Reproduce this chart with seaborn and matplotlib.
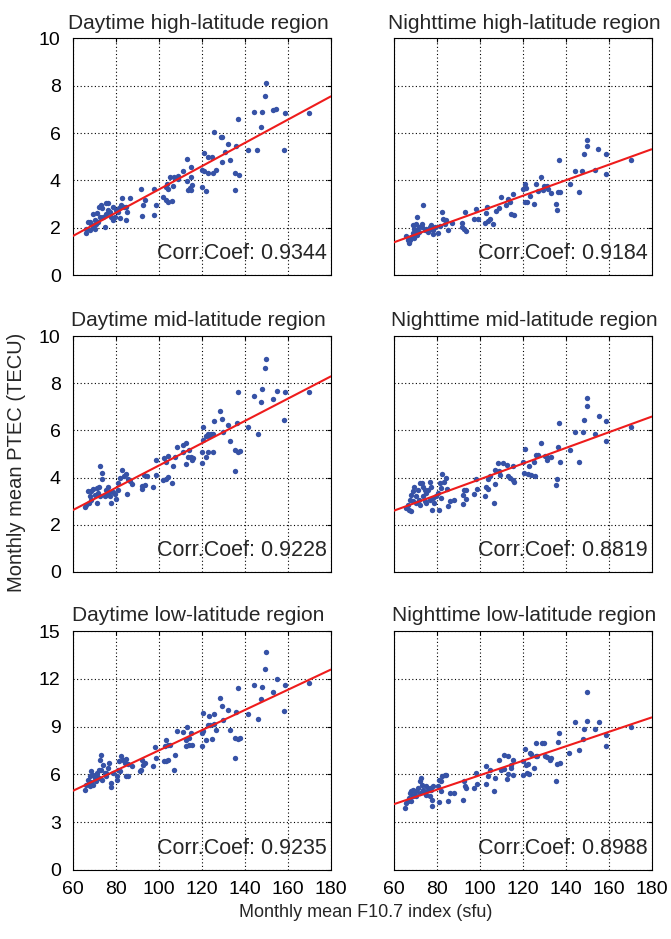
import numpy as np
import pandas as pd
import seaborn as sns
import matplotlib.pyplot as plt

# monthly mean F10.7 (x) and PTEC (y)
dh_x = [149.6, 149.5, 169.8, 154.6, 153.0, 158.6, 148.0, 144.0, 147.4, 145.7,
        141.4, 158.4, 136.7, 136.0, 125.6, 128.7, 129.3, 132.0, 130.9, 132.9,
        129.5, 126.7, 124.8, 123.0, 120.8, 120.2, 120.8, 122.8, 125.0, 135.3,
        137.2, 135.2, 120.2, 122.0, 112.9, 114.9, 111.2, 114.9, 113.0, 115.5,
        114.3, 113.4, 114.9, 108.8, 106.8, 109.0, 103.7, 103.4, 104.2, 105.0,
        106.5, 101.9, 103.4, 104.2, 106.0, 97.8, 98.8, 97.5, 91.6, 92.2,
        92.6, 93.5, 86.4, 82.8, 85.3, 84.8, 83.6, 84.5,
        65.9, 66.2, 67.0, 68.5, 69.3, 67.8, 70.1, 70.9, 72.1, 73.2,
        73.6, 72.4, 71.6, 74.0, 74.7, 75.5, 76.3, 77.0, 77.8, 78.6,
        79.4, 79.8, 80.9, 81.7, 81.4, 82.5, 78.6, 75.5, 69.3, 70.5,
        68.0, 76.3, 70.0]
dh_y = [8.10, 7.56, 6.86, 7.00, 6.97, 6.85, 6.90, 6.90, 6.24, 5.28,
        5.30, 5.30, 6.58, 5.45, 6.04, 5.85, 5.85, 5.55, 5.20, 4.86,
        4.76, 4.45, 5.00, 5.00, 5.17, 4.45, 4.42, 4.30, 4.30, 4.30,
        4.22, 3.58, 3.73, 3.56, 4.90, 4.58, 4.40, 4.15, 3.99, 3.80,
        3.70, 3.60, 3.60, 4.20, 4.13, 4.05, 3.85, 3.73, 3.66, 4.13,
        3.76, 3.31, 3.17, 3.10, 3.14, 3.65, 2.96, 2.52, 3.62, 2.49,
        2.96, 3.17, 3.24, 3.24, 2.68, 2.35, 2.89, 2.89,
        1.79, 1.93, 2.24, 2.18, 2.04, 2.25, 2.32, 2.63, 2.89, 2.96,
        2.82, 2.46, 2.25, 2.46, 2.04, 2.60, 2.77, 2.68, 2.46, 2.32,
        2.46, 2.75, 2.68, 2.40, 2.82, 2.96, 2.89, 3.03, 2.60, 2.18,
        1.90, 3.03, 1.93]

nh_x = [149.9, 149.9, 148.5, 155.2, 158.9, 158.7, 170.4, 153.6, 147.7, 144.4,
        146.3, 137.0, 141.8, 137.3, 136.5, 135.7, 136.0, 128.7, 126.1, 130.0,
        131.1, 129.5, 131.8, 133.0, 127.2, 121.0, 121.3, 123.3, 120.2, 121.1,
        122.2, 125.3, 115.5, 113.0, 114.0, 112.1, 114.7, 116.0, 110.0, 107.7,
        108.8, 103.5, 103.1, 104.6, 104.0, 102.5, 106.2, 98.3, 97.2, 99.0,
        93.1, 91.9, 92.5, 93.4, 91.7, 87.1, 85.2, 82.5, 82.9, 84.3,
        83.6, 81.3, 80.5, 78.2, 79.0, 77.3, 76.3, 75.1, 73.5, 70.9,
        72.9, 71.9, 71.6, 70.4, 69.5, 68.9, 68.1, 67.0, 66.5, 65.8,
        67.6, 68.9, 70.1, 73.2, 74.3, 75.7, 76.6, 78.2, 70.7, 69.6]
nh_y = [5.69, 5.45, 5.13, 5.31, 5.10, 4.28, 4.85, 4.46, 4.39, 4.39,
        3.51, 4.85, 3.86, 3.50, 3.50, 3.00, 2.75, 4.15, 3.86, 3.76,
        3.76, 3.60, 3.66, 3.45, 3.56, 3.86, 3.70, 3.35, 3.65, 3.07,
        3.07, 2.99, 3.41, 3.20, 3.10, 2.96, 2.60, 2.52, 3.31, 2.72,
        2.82, 2.86, 2.63, 2.39, 2.28, 2.21, 2.14, 2.79, 2.39, 2.38,
        2.68, 2.21, 1.93, 1.86, 2.04, 2.21, 1.90, 2.66, 2.38, 2.35,
        2.18, 2.07, 1.76, 1.90, 2.04, 2.10, 1.90, 1.97, 2.97, 2.46,
        2.14, 2.04, 1.83, 1.90, 1.97, 1.76, 1.62, 1.34, 1.48, 1.66,
        1.48, 2.11, 2.15, 2.04, 1.90, 1.83, 2.04, 1.73, 1.69, 1.55]

dm_x = [149.6, 149.5, 169.8, 148.0, 144.0, 147.4, 153.2, 154.9, 158.6, 158.4,
        141.4, 145.9, 136.7, 136.3, 132.9, 135.3, 137.0, 137.5, 135.5, 128.5,
        129.3, 125.7, 132.1, 129.8, 120.5, 122.8, 124.0, 125.0, 123.2, 121.8,
        120.5, 120.2, 122.7, 125.0, 121.7, 120.2, 108.2, 111.2, 112.7, 114.1,
        114.7, 115.8, 115.3, 112.4, 113.3, 111.2, 107.6, 106.7, 104.2, 103.4,
        102.5, 104.3, 103.4, 102.0, 106.2, 98.4, 98.8, 97.2, 92.9, 92.1,
        92.1, 94.2, 93.5, 87.6, 85.4, 86.4, 84.5, 82.6, 83.6, 81.7,
        80.9, 85.0, 80.9, 79.4, 78.6, 76.7, 77.4, 76.3, 75.5, 73.6,
        72.4, 73.5, 72.1, 70.9, 71.6, 69.3, 68.5, 70.1, 67.8, 67.0,
        67.4, 66.2, 65.6, 68.5, 70.9, 72.4, 74.7, 75.5, 77.0, 79.8]
dm_y = [9.02, 8.63, 7.61, 7.76, 7.47, 7.20, 7.34, 7.69, 7.64, 6.44,
        6.15, 5.85, 7.65, 6.32, 5.56, 5.17, 5.08, 5.12, 4.28, 6.81,
        6.50, 6.39, 6.25, 5.94, 6.16, 5.84, 5.84, 5.84, 5.77, 5.77,
        5.59, 5.08, 5.08, 5.08, 4.86, 4.63, 5.31, 5.38, 5.45, 5.17,
        4.87, 4.82, 4.75, 4.58, 4.87, 5.10, 4.89, 4.48, 4.91, 4.68,
        4.83, 4.04, 3.95, 3.88, 3.76, 4.75, 4.10, 3.62, 4.09, 3.51,
        3.65, 4.05, 3.69, 3.71, 3.95, 3.84, 4.14, 4.31, 4.05, 3.97,
        3.76, 3.30, 3.46, 3.31, 3.40, 3.38, 2.92, 3.62, 3.48, 4.19,
        4.47, 3.95, 3.62, 3.55, 3.34, 3.51, 3.41, 3.27, 3.20, 3.41,
        2.92, 2.85, 2.75, 3.06, 2.92, 3.20, 3.20, 3.27, 3.20, 3.10]

nm_x = [150.0, 150.0, 148.5, 155.3, 158.9, 158.8, 170.4, 153.6, 147.9, 144.4,
        146.3, 137.0, 141.8, 136.5, 137.3, 136.0, 135.7, 128.7, 126.4, 127.2,
        130.3, 131.5, 131.1, 133.1, 123.0, 125.2, 121.0, 120.2, 120.5, 122.5,
        124.0, 125.6, 115.5, 111.0, 112.7, 108.5, 108.8, 107.1, 113.0, 114.2,
        115.5, 115.8, 109.3, 107.0, 104.6, 103.9, 103.1, 103.9, 102.3, 106.5,
        98.4, 98.9, 97.3, 93.4, 92.8, 93.7, 92.0, 92.2, 87.8, 86.0,
        85.2, 82.5, 84.4, 83.2, 81.3, 82.1, 84.9, 80.5, 79.8, 82.1,
        81.0, 78.5, 77.9, 78.2, 76.6, 77.4, 75.1, 75.9, 73.2, 72.0,
        73.5, 74.3, 71.2, 69.6, 68.9, 68.1, 70.4, 71.7, 67.3, 68.9,
        66.5, 67.0, 65.8, 68.1, 75.1, 72.0, 70.4, 76.6, 73.5, 74.5]
nm_y = [7.38, 7.05, 6.46, 6.61, 6.39, 5.57, 6.15, 5.87, 5.92, 5.92,
        4.68, 6.32, 5.17, 5.31, 4.68, 3.95, 3.68, 5.48, 4.96, 4.96,
        4.92, 4.86, 4.73, 4.89, 4.49, 4.68, 5.20, 4.68, 4.20, 4.15,
        4.10, 4.07, 4.47, 4.63, 4.54, 4.60, 4.30, 4.31, 4.07, 3.97,
        3.88, 3.82, 4.12, 3.74, 4.05, 3.95, 3.62, 3.53, 3.20, 2.92,
        3.93, 3.51, 3.32, 3.49, 3.49, 3.10, 3.25, 2.90, 3.06, 2.99,
        2.78, 4.16, 3.97, 3.83, 3.76, 3.55, 3.51, 3.34, 3.20, 3.13,
        2.61, 2.92, 2.64, 3.13, 3.83, 3.62, 3.34, 3.48, 3.76, 3.76,
        3.62, 3.48, 3.48, 3.62, 3.41, 3.25, 3.20, 3.06, 3.06, 2.99,
        2.85, 2.64, 2.71, 2.57, 2.92, 2.85, 2.92, 3.06, 3.20, 3.00]

dl_x = [149.6, 149.5, 169.8, 144.0, 148.0, 147.4, 154.9, 153.3, 158.6, 158.4,
        141.4, 145.9, 136.6, 136.0, 132.9, 135.3, 137.0, 137.5, 135.3, 128.5,
        129.1, 125.6, 132.1, 129.8, 120.5, 123.1, 125.7, 122.8, 123.9, 120.5,
        120.0, 122.0, 124.8, 120.2, 126.7, 112.9, 108.4, 111.2, 115.0, 114.0,
        112.4, 113.8, 115.2, 112.4, 103.1, 105.0, 104.2, 102.6, 107.3, 106.8,
        104.2, 103.4, 102.2, 98.0, 98.8, 97.2, 92.2, 92.6, 93.3, 91.8,
        91.0, 87.6, 85.6, 84.8, 85.6, 82.5, 83.3, 84.8, 84.0, 81.4,
        81.0, 81.7, 80.2, 80.5, 77.8, 77.4, 78.6, 76.7, 76.3, 75.5,
        74.0, 73.2, 72.4, 72.1, 73.2, 70.9, 70.9, 69.3, 70.1, 68.5,
        67.8, 67.0, 67.4, 66.2, 65.4, 68.5, 69.3, 70.5, 72.1, 73.6,
        74.7, 75.5, 67.8]
dl_y = [13.68, 12.59, 11.73, 11.64, 11.48, 10.74, 11.96, 11.18, 11.58, 9.97,
        9.82, 9.48, 11.45, 9.94, 8.81, 8.30, 8.25, 8.30, 7.05, 10.80,
        10.28, 9.80, 10.07, 9.44, 9.86, 9.69, 9.17, 9.13, 9.13, 8.71,
        8.60, 8.18, 8.25, 7.76, 8.81, 8.96, 8.75, 8.66, 8.60, 8.27,
        8.18, 7.82, 7.82, 7.78, 8.18, 7.87, 7.87, 7.76, 7.24, 6.29,
        6.92, 6.82, 6.82, 7.72, 7.03, 6.50, 6.88, 6.60, 6.71, 6.29,
        6.19, 6.50, 6.65, 5.87, 5.92, 7.17, 6.92, 6.97, 6.71, 6.82,
        6.29, 6.19, 5.87, 5.62, 5.45, 5.20, 6.08, 6.71, 6.40, 6.08,
        6.61, 7.24, 6.88, 6.29, 6.29, 6.08, 5.87, 5.98, 5.77, 6.19,
        5.87, 5.66, 5.45, 5.35, 5.04, 5.50, 5.35, 5.56, 5.77, 5.66,
        6.08, 5.87, 5.25]

nl_x = [150.0, 150.0, 148.5, 144.4, 155.3, 153.6, 158.9, 158.8, 170.4, 147.9,
        146.3, 141.6, 137.0, 136.5, 137.3, 136.0, 135.7, 126.1, 129.0, 129.8,
        126.1, 126.7, 130.3, 131.1, 132.6, 133.2, 121.0, 123.3, 124.0, 120.2,
        121.7, 122.5, 120.2, 122.2, 125.2, 123.0, 115.5, 114.7, 111.2, 113.0,
        108.8, 114.7, 115.5, 109.8, 111.2, 112.9, 113.2, 103.1, 104.6, 103.9,
        102.8, 107.0, 106.5, 98.4, 98.9, 97.3, 92.5, 93.0, 93.7, 92.2,
        87.8, 86.0, 85.2, 84.4, 83.6, 82.5, 82.1, 80.5, 81.0, 82.1,
        81.0, 78.2, 77.4, 77.9, 77.9, 76.6, 75.1, 75.9, 72.8, 72.0,
        73.1, 73.5, 74.3, 71.2, 70.4, 68.9, 68.1, 69.6, 68.9, 67.6,
        67.0, 66.5, 65.8, 65.4, 68.1, 70.4, 72.0, 75.1, 76.6]
nl_y = [11.16, 9.38, 8.87, 9.27, 9.27, 8.85, 8.45, 7.80, 8.98, 8.24,
        7.51, 7.36, 8.60, 8.06, 6.71, 6.65, 5.60, 7.97, 7.95, 7.95,
        7.18, 7.18, 7.13, 7.07, 6.88, 7.00, 7.62, 7.34, 7.30, 6.82,
        6.60, 6.63, 5.98, 6.08, 6.40, 6.02, 6.88, 6.60, 7.22, 7.17,
        6.88, 6.40, 5.98, 6.29, 6.34, 5.73, 6.04, 6.50, 6.29, 5.87,
        5.41, 5.77, 4.93, 6.08, 5.41, 5.14, 5.56, 5.25, 5.14, 4.41,
        4.83, 4.83, 4.30, 5.98, 5.94, 5.87, 5.56, 5.25, 5.62, 4.93,
        4.26, 5.25, 5.04, 4.41, 4.03, 5.14, 5.29, 5.04, 5.77, 5.56,
        5.35, 5.04, 4.83, 5.14, 4.93, 5.04, 4.93, 4.72, 4.62, 4.83,
        4.51, 4.36, 4.20, 3.88, 4.30, 4.62, 4.83, 4.72, 4.62]

titles = ["Daytime high-latitude region", "Nighttime high-latitude region",
          "Daytime mid-latitude region", "Nighttime mid-latitude region",
          "Daytime low-latitude region", "Nighttime low-latitude region"]
corr_coef = ["0.9344", "0.9184", "0.9228", "0.8819", "0.9235", "0.8988"]
x_ticks = [60, 80, 100, 120, 140, 160, 180]
y_ticks_hm = [0, 2, 4, 6, 8, 10]
y_ticks_low = [0, 3, 6, 9, 12, 15]

panels = [(dh_x, dh_y), (nh_x, nh_y), (dm_x, dm_y),
          (nm_x, nm_y), (dl_x, dl_y), (nl_x, nl_y)]

sns.set_style("white")
plt.rcParams["font.family"] = ["Liberation Sans", "DejaVu Sans"]

fig = plt.figure(figsize=(6.71, 9.39), dpi=100)
lefts = [0.109, 0.587]
bottoms = [0.707, 0.391, 0.0735]
heights = [0.252, 0.251, 0.2545]
dot_color = "#3652a6"
line_color = "#ee1c1c"

for i, (xs, ys) in enumerate(panels):
    row, col = divmod(i, 2)
    ax = fig.add_axes([lefts[col], bottoms[row], 0.384, heights[row]])
    df = pd.DataFrame({"F107": xs, "PTEC": ys})
    ax.set_xlim(60, 180)
    yt = y_ticks_low if row == 2 else y_ticks_hm
    ax.set_ylim(yt[0], yt[-1])
    sns.scatterplot(data=df, x="F107", y="PTEC", ax=ax, color=dot_color,
                    s=15, linewidth=0, zorder=3)
    sns.regplot(data=df, x="F107", y="PTEC", ax=ax, scatter=False, ci=None,
                truncate=False, line_kws={"color": line_color, "lw": 1.5, "zorder": 4})
    ax.set_xlim(60, 180)
    ax.set_ylim(yt[0], yt[-1])
    ax.set_xticks(x_ticks)
    ax.set_yticks(yt)
    ax.grid(True, color="black", linestyle=(0, (1, 2.2)), linewidth=0.8)
    ax.set_axisbelow(True)
    for sp in ax.spines.values():
        sp.set_color("black")
        sp.set_linewidth(0.8)
    ax.tick_params(direction="in", length=3, labelsize=14, colors="black",
                   top=True, right=True)
    ax.tick_params(axis="y", pad=9)
    ax.tick_params(axis="x", pad=8)
    ax.set_xlabel("")
    ax.set_ylabel("")
    if row < 2:
        ax.tick_params(labelbottom=False)
    if col == 1:
        ax.tick_params(labelleft=False)
    ax.set_title(titles[i], fontsize=15, pad=7, x=0.485 if col == 0 else 0.505)
    ax.text(0.985, 0.09, "Corr.Coef: " + corr_coef[i], transform=ax.transAxes,
            ha="right", va="center", fontsize=15.5)

fig.text(0.545, 0.028, "Monthly mean F10.7 index (sfu)", ha="center", va="center", fontsize=13)
fig.text(0.024, 0.508, "Monthly mean PTEC (TECU)", ha="center", va="center",
         rotation=90, fontsize=14.5)

fig.savefig("out.png", dpi=100)
